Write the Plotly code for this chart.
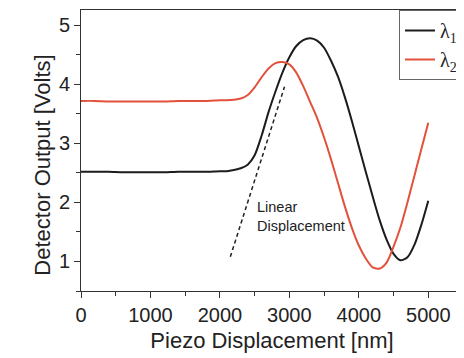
import plotly.graph_objects as go

# ---- data ----
x_nm = [0, 200, 400, 600, 800, 1000, 1200, 1400, 1600, 1800, 2000, 2100, 2200, 2300,
        2400, 2500, 2600, 2700, 2800, 2900, 3000, 3100, 3200, 3300, 3400, 3500, 3600,
        3700, 3800, 3900, 4000, 4100, 4200, 4300, 4400, 4500, 4600, 4700, 4800, 4900, 5000]

lambda1 = [2.52, 2.52, 2.52, 2.51, 2.51, 2.51, 2.51, 2.52, 2.52, 2.52, 2.53, 2.53, 2.55, 2.58,
           2.64, 2.80, 3.13, 3.53, 3.88, 4.20, 4.46, 4.65, 4.75, 4.78, 4.74, 4.62, 4.40,
           4.13, 3.78, 3.38, 2.95, 2.52, 2.10, 1.70, 1.37, 1.13, 1.02, 1.07, 1.28, 1.62, 2.03]

lambda2 = [3.72, 3.72, 3.71, 3.71, 3.71, 3.71, 3.71, 3.72, 3.72, 3.72, 3.73, 3.73, 3.74, 3.76,
           3.82, 3.95, 4.12, 4.27, 4.36, 4.38, 4.34, 4.20, 3.97, 3.70, 3.43, 3.10, 2.73,
           2.33, 1.93, 1.57, 1.27, 1.05, 0.90, 0.88, 0.98, 1.25, 1.58, 2.00, 2.45, 2.90, 3.35]

linear_x = [2150, 2930]
linear_y = [1.08, 3.96]

series_names = ["λ<sub>1</sub>", "λ<sub>2</sub>"]
x_ticks = [0, 1000, 2000, 3000, 4000, 5000]
y_ticks = [1, 2, 3, 4, 5]

fig = go.Figure()
fig.add_trace(go.Scatter(x=linear_x, y=linear_y, mode="lines", showlegend=False,
                         line=dict(color="#222222", width=1.5, dash="4px,3px")))
fig.add_trace(go.Scatter(x=x_nm, y=lambda1, mode="lines", name=series_names[0],
                         line=dict(color="#1c1c1c", width=2, shape="spline", smoothing=0.7)))
fig.add_trace(go.Scatter(x=x_nm, y=lambda2, mode="lines", name=series_names[1],
                         line=dict(color="#e2513c", width=2, shape="spline", smoothing=0.7)))

axis_font = dict(family="Liberation Sans, Arial, sans-serif", size=20, color="#222222")

fig.update_layout(
    width=456, height=350,
    margin=dict(l=73, r=1, t=2, b=67),
    paper_bgcolor="white", plot_bgcolor="white",
    xaxis=dict(range=[0, 5500], tickvals=x_ticks, ticks="outside", ticklen=6, tickwidth=1,
               tickcolor="#333", showline=True, linecolor="#333", linewidth=1, mirror=True,
               showgrid=False, zeroline=False, tickfont=axis_font,
               minor=dict(dtick=500, tick0=0, ticks="outside", ticklen=4, tickcolor="#333"),
               title=dict(text="Piezo Displacement [nm]", standoff=7,
                          font=dict(family="Liberation Sans, Arial, sans-serif", size=22, color="#222"))),
    yaxis=dict(range=[0.5, 5.26], tickvals=y_ticks, ticks="outside", ticklen=6, tickwidth=1,
               tickcolor="#333", showline=True, linecolor="#333", linewidth=1, mirror=True,
               showgrid=False, zeroline=False, tickfont=axis_font,
               minor=dict(dtick=0.5, tick0=0, ticks="outside", ticklen=4, tickcolor="#333")),
    xaxis2=dict(overlaying="x", matches="x", side="top", anchor="y", range=[0, 5500],
                tickvals=x_ticks, ticks="inside", ticklen=5, tickcolor="#333",
                showticklabels=False, showgrid=False, zeroline=False, showline=False,
                minor=dict(dtick=500, tick0=0, ticks="inside", ticklen=3, tickcolor="#333")),
    yaxis2=dict(overlaying="y", matches="y", side="right", anchor="x", range=[0.5, 5.26],
                tickvals=y_ticks, ticks="inside", ticklen=5, tickcolor="#333",
                showticklabels=False, showgrid=False, zeroline=False, showline=False,
                minor=dict(dtick=0.5, tick0=0, ticks="inside", ticklen=3, tickcolor="#333")),
    legend=dict(x=1, y=1, xanchor="right", yanchor="top", bgcolor="white",
                bordercolor="#666", borderwidth=1, itemwidth=30,
                font=dict(family="Liberation Serif, Times New Roman, serif", size=20, color="#222")),
    annotations=[
        dict(text="Detector Output [Volts]", xref="paper", yref="paper",
             x=-0.1387, y=0.448, textangle=-90, showarrow=False,
             font=dict(family="Liberation Sans, Arial, sans-serif", size=22, color="#222")),
        dict(text="Linear<br>Displacement", xref="x", yref="y", x=2504, y=1.77,
             xanchor="left", align="left", showarrow=False,
             font=dict(family="Liberation Sans, Arial, sans-serif", size=14.5, color="#222")),
    ],
)

fig.write_html("out.html")
